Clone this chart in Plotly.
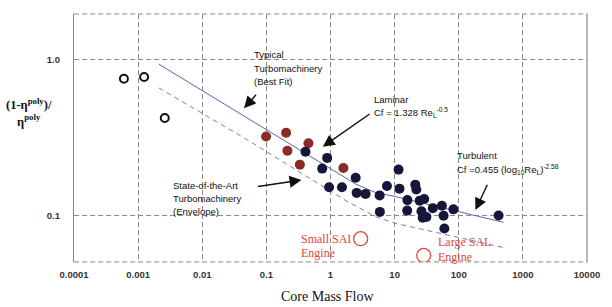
import plotly.graph_objects as go

# ---------------- data ----------------
open_x = [0.0006, 0.00124, 0.0026]
open_y = [0.75, 0.77, 0.42]

red_x = [0.099, 0.203, 0.453, 0.213, 0.333, 1.59]
red_y = [0.320, 0.338, 0.289, 0.259, 0.211, 0.201]

navy_x = [0.407, 0.887, 0.743, 2.47, 0.95, 1.51, 2.56, 3.52, 5.84, 7.59, 5.89,
          11.5, 11.9, 15.8, 15.7, 21.0, 21.8, 24.6, 28.9, 26.2, 27.4, 31.3,
          39.4, 54.6, 58.0, 59.7, 82.6, 418]
navy_y = [0.255, 0.233, 0.199, 0.174, 0.151, 0.151, 0.139, 0.137, 0.134, 0.154, 0.105,
          0.196, 0.148, 0.125, 0.107, 0.157, 0.146, 0.124, 0.127, 0.106, 0.0962, 0.0974,
          0.111, 0.115, 0.0993, 0.0822, 0.109, 0.0995]

fit_x = [0.0021, 0.05, 1.0, 2.5, 5, 10, 500]
fit_y = [0.93, 0.42, 0.20, 0.158, 0.14, 0.132, 0.09]

env_x = [0.0021, 0.05, 1.74, 5, 10, 500]
env_y = [0.655, 0.305, 0.124, 0.098, 0.089, 0.062]

sai_x = [2.95, 28.4]
sai_y = [0.0707, 0.0552]

x_ticks = [0.0001, 0.001, 0.01, 0.1, 1, 10, 100, 1000, 10000]
x_ticktext = ["0.0001", "0.001", "0.01", "0.1", "1", "10", "100", "1000", "10000"]
y_ticks = [0.1, 1]
y_ticktext = ["0.1", "1.0"]

# ---------------- figure ----------------
W, H = 612, 307
L, R, T, B = 74, 17, 14, 45
PW, PH = W - L - R, H - T - B

fig = go.Figure()
fig.add_trace(go.Scatter(x=fit_x, y=fit_y, mode="lines",
                         line=dict(color="#5a63b8", width=1), hoverinfo="skip"))
fig.add_trace(go.Scatter(x=env_x, y=env_y, mode="lines",
                         line=dict(color="#7484a8", width=1, dash="5px,4px"), hoverinfo="skip"))
fig.add_trace(go.Scatter(x=open_x, y=open_y, mode="markers",
                         marker=dict(size=8, color="rgba(0,0,0,0)", line=dict(color="#111", width=2))))
fig.add_trace(go.Scatter(x=red_x, y=red_y, mode="markers",
                         marker=dict(size=10, color="#8a2b25", line=dict(width=0))))
fig.add_trace(go.Scatter(x=navy_x, y=navy_y, mode="markers",
                         marker=dict(size=10, color="#15173a", line=dict(width=0))))
fig.add_trace(go.Scatter(x=sai_x, y=sai_y, mode="markers",
                         marker=dict(size=14, color="rgba(0,0,0,0)", line=dict(color="#e0453c", width=1.3))))

grid = dict(showgrid=True, gridcolor="#8a8a8a", gridwidth=1, griddash="5px,3px",
            zeroline=False, ticks="",
            tickfont=dict(family="Liberation Sans, Arial", size=9.5, color="#333", weight="bold"))
fig.update_xaxes(type="log", range=[-4, 4], tickvals=x_ticks, ticktext=x_ticktext,
                 showline=False, ticklabelstandoff=5, **grid)
fig.update_yaxes(type="log", range=[-1.3, 0.29], tickvals=y_ticks, ticktext=y_ticktext,
                 showline=True, linecolor="#888", linewidth=1.2, ticklabelstandoff=11, **grid)

shapes = [
    dict(type="line", xref="paper", yref="paper", x0=0, x1=1, y0=1, y1=1,
         line=dict(color="#8a8a8a", width=1, dash="5px,3px")),
    dict(type="line", xref="paper", yref="paper", x0=0, x1=1, y0=0, y1=0,
         line=dict(color="#8a8a8a", width=1, dash="5px,3px")),
    dict(type="line", xref="paper", yref="paper", x0=1, x1=1, y0=0, y1=1,
         line=dict(color="#8a8a8a", width=1.2)),
]

def px2paper(px, py):
    return (px - L) / PW, (H - B - py) / PH

annotations = []

def label(px, py, text, size=9.5, color="#111", family="Liberation Sans, Arial", xanchor="left"):
    x, y = px2paper(px, py)
    annotations.append(dict(xref="paper", yref="paper", x=x, y=y, text=text, showarrow=False,
                            xanchor=xanchor, yanchor="middle", align="left",
                            font=dict(size=size, color=color, family=family)))

def arrow(hx, hy, tx, ty):
    x, y = px2paper(hx, hy)
    annotations.append(dict(xref="paper", yref="paper", x=x, y=y, text="", showarrow=True,
                            ax=tx - hx, ay=ty - hy, arrowhead=2, arrowsize=1.7,
                            arrowwidth=1.4, arrowcolor="#111"))

label(255, 55, "Typical")
label(255, 68, "Turbomachinery")
label(255, 81.5, "(Best Fit)")
arrow(246.7, 108.3, 260, 93.3)

label(377, 99, "Laminar")
label(377, 112.7, "Cf = 1.328 Re<sub>L</sub><sup>-0.5</sup>")
arrow(326.7, 146.7, 375, 113)

label(461, 155, "Turbulent")
label(461, 169, "Cf =0.455 (log<sub>10</sub>Re<sub>L</sub>)<sup>-2.58</sup>")
arrow(481.7, 210, 494.3, 183.3)

label(172.5, 185, "State-of-the-Art")
label(172.5, 198, "Turbomachinery")
label(172.5, 211.5, "(Envelope)")
arrow(305, 180, 260, 186.7)

serif = "Liberation Serif, Times New Roman"
label(303, 239, "Small SAI", size=12, color="#e0453c", family=serif)
label(303, 252.5, "Engine", size=12, color="#e0453c", family=serif)
label(441.5, 242, "Large SAL", size=12, color="#e0453c", family=serif)
label(441.5, 256.5, "Engine", size=12, color="#e0453c", family=serif)

label(331, 296, "Core Mass Flow", size=14, color="#111", family=serif, xanchor="center")
x0, y0 = px2paper(28, 112)
annotations.append(dict(xref="paper", yref="paper", x=x0, y=y0,
                        text="<b>(1-η<sup>poly</sup>)/</b><br><b>η<sup>poly</sup></b>",
                        showarrow=False, xanchor="center", yanchor="middle", align="center",
                        font=dict(size=12.5, color="#111", family=serif)))

fig.update_layout(width=W, height=H, margin=dict(l=L, r=R, t=T, b=B),
                  paper_bgcolor="white", plot_bgcolor="white", showlegend=False,
                  shapes=shapes, annotations=annotations)

fig.write_html("out.html")
